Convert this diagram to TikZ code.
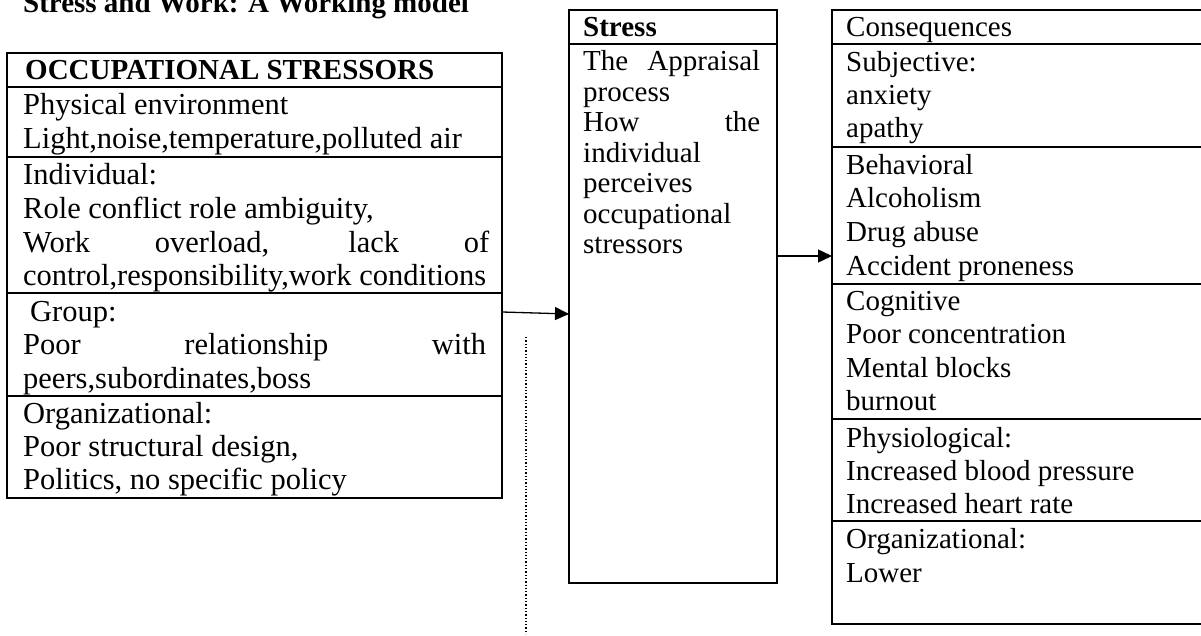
\documentclass[tikz,border=0pt]{standalone}
\usepackage{fontspec}
\setmainfont{Liberation Serif}
\usetikzlibrary{arrows.meta}
\begin{document}
\begin{tikzpicture}[x=1pt,y=-1pt,
  boxstyle/.style={draw=black,line width=2pt,inner sep=0pt,outer sep=0pt,anchor=north west},
  divider/.style={line width=2pt},
  txt/.style={anchor=base west,inner sep=0pt,font=\fontsize{29}{34}\selectfont},
  ltxt/.style={anchor=base west,inner sep=0pt,font=\fontsize{30.5}{34}\selectfont},
  btxt/.style={anchor=base west,inner sep=0pt,font=\bfseries\fontsize{29}{34}\selectfont},
  arr/.style={line width=1.3pt,-{Triangle[length=14pt,width=13pt]}},
  dotline/.style={line width=1.3pt,dash pattern=on 1.3pt off 2pt}
]
\clip (0,0) rectangle (1201,636);
\useasboundingbox (0,0) rectangle (1201,636);

% title
\node[btxt] (title) at (23,13) {Stress and Work: A Working model};

% ---------- left box ----------
\node[boxstyle,minimum width=495pt,minimum height=445pt] (occ) at (7,53) {};
\foreach \yy in {87,157,293,396}
  \draw[divider] (occ.west |- 0,\yy) -- (occ.east |- 0,\yy);
\node[btxt] (occh) at (25,80) {OCCUPATIONAL STRESSORS};
\node[ltxt] (l1) at (23,115) {Physical environment};
\node[ltxt] (l2) at (23,149) {Light,noise,temperature,polluted air};
\node[ltxt] (l3) at (23,185) {Individual:};
\node[ltxt] (l4) at (23,218.5) {Role conflict role ambiguity,};
\node[ltxt] (l5) at (23,252) {\makebox[466pt][s]{Work overload, lack of}};
\node[ltxt] (l6) at (23,285.5) {control,responsibility,work conditions};
\node[ltxt] (l7) at (30,321) {Group:};
\node[ltxt] (l8) at (23,354.5) {\makebox[463pt][s]{Poor relationship with}};
\node[ltxt] (l9) at (23,388) {peers,subordinates,boss};
\node[ltxt] (l10) at (23,423) {Organizational:};
\node[ltxt] (l11) at (23,456) {Poor structural design,};
\node[ltxt] (l12) at (23,489) {Politics, no specific policy};

% ---------- middle box ----------
\node[boxstyle,minimum width=208pt,minimum height=573pt] (stress) at (569,10) {};
\draw[divider] (stress.west |- 0,44) -- (stress.east |- 0,44);
\node[btxt] (sh) at (583,37) {Stress};
\node[txt] (m1) at (583,71) {\makebox[177pt][s]{The Appraisal}};
\node[txt] (m2) at (583,101.5) {process};
\node[txt] (m3) at (583,132) {\makebox[177pt][s]{How the}};
\node[txt] (m4) at (583,162.5) {individual};
\node[txt] (m5) at (583,193) {perceives};
\node[txt] (m6) at (583,223.5) {occupational};
\node[txt] (m7) at (583,254) {stressors};

% ---------- right box ----------
\node[boxstyle,minimum width=420pt,minimum height=614pt] (cons) at (832,10) {};
\foreach \yy in {44,147,284,419,521}
  \draw[divider] (cons.west |- 0,\yy) -- (cons.east |- 0,\yy);
\node[txt] (r0) at (846,37) {Consequences};
\node[txt] (r1) at (846,72) {Subjective:};
\node[txt] (r2) at (846,105) {anxiety};
\node[txt] (r3) at (846,138) {apathy};
\node[txt] (r4) at (846,175) {Behavioral};
\node[txt] (r5) at (846,208) {Alcoholism};
\node[txt] (r6) at (846,242) {Drug abuse};
\node[txt] (r7) at (846,275) {Accident proneness};
\node[txt] (r8) at (846,310) {Cognitive};
\node[txt] (r9) at (846,343) {Poor concentration};
\node[txt] (r10) at (846,377) {Mental blocks};
\node[txt] (r11) at (846,410) {burnout};
\node[txt] (r12) at (846,447) {Physiological:};
\node[txt] (r13) at (846,480) {Increased blood pressure};
\node[txt] (r14) at (846,513) {Increased heart rate};
\node[txt] (r15) at (846,548) {Organizational:};
\node[txt] (r16) at (846,582) {Lower};

% ---------- connectors ----------
\draw[arr] ([yshift=-36.5pt]occ.east) -- ([yshift=-17.5pt]stress.west);
\draw[arr] ([yshift=40.5pt]stress.east) -- ([yshift=61pt]cons.west);

\coordinate (dA) at (526,337);
\coordinate (dB) at (526,634);
\draw[dotline] (dA) -- (dB);
\end{tikzpicture}
\end{document}
